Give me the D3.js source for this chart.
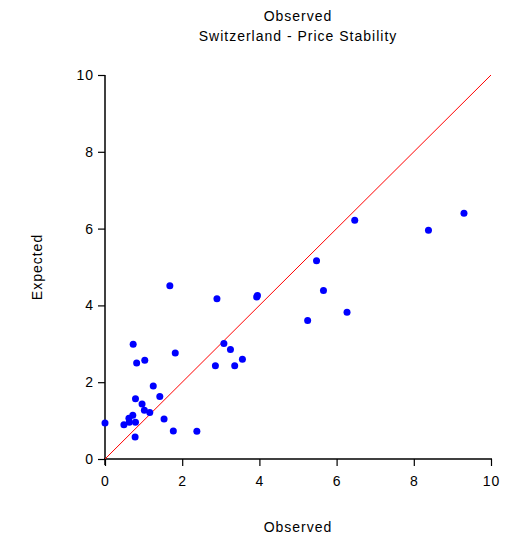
<!DOCTYPE html>
<html>
<head>
<meta charset="utf-8">
<script src="https://cdn.jsdelivr.net/npm/d3@7"></script>
<style>
  body { margin: 0; background: #fff; }
  text { font-family: "Liberation Sans", Arial, sans-serif; fill: #000; letter-spacing: 1px; }
</style>
</head>
<body>
<div id="chart"></div>
<script>
// observed vs expected values
let observed = [0.73, 1.82, 3.08, 3.25, 0.82, 1.03, 2.86, 3.36, 3.56, 1.25,
                1.42, 0.79, 0.96, 1.02, 1.16, 1.53, 0.72, 0.62, 0.63, 0.79,
                0.49, 0.00, 0.78, 1.77, 2.38, 6.47, 9.30, 8.38, 5.48, 5.66,
                1.68, 2.90, 3.93, 3.95, 5.25, 6.27];
let expected = [2.99, 2.76, 3.01, 2.85, 2.50, 2.57, 2.43, 2.43, 2.60, 1.90,
                1.63, 1.57, 1.43, 1.27, 1.21, 1.04, 1.14, 1.06, 0.96, 0.96,
                0.89, 0.94, 0.57, 0.73, 0.72, 6.22, 6.40, 5.96, 5.16, 4.39,
                4.51, 4.17, 4.22, 4.26, 3.61, 3.82];
let ticks = [0, 2, 4, 6, 8, 10];
let titles = ["Observed", "Switzerland - Price Stability"];

let width = 508, height = 540;
let margin = { left: 105, right: 17, top: 75, bottom: 81 };

let svg = d3.select('#chart')
    .append('svg')
    .attr('width', width)
    .attr('height', height);

let x = d3.scaleLinear().domain([0, 10]).range([margin.left, width - margin.right]);
let y = d3.scaleLinear().domain([0, 10]).range([height - margin.bottom, margin.top]);

// axes
let xAxis = svg.append('g')
    .attr('transform', `translate(0,${height - margin.bottom})`)
    .call(d3.axisBottom(x).tickValues(ticks).tickSize(7).tickPadding(10));
let yAxis = svg.append('g')
    .attr('transform', `translate(${margin.left},0)`)
    .call(d3.axisLeft(y).tickValues(ticks).tickSize(7).tickPadding(4));

[xAxis, yAxis].forEach(a => {
    a.selectAll('text').style('font-size', '14px').style('font-family', '"Liberation Sans", Arial, sans-serif');
    a.select('.domain').attr('stroke', '#000').attr('stroke-width', 1.5);
    a.selectAll('.tick line').attr('stroke', '#000').attr('stroke-width', 1.2);
});
xAxis.select('.domain').attr('d', `M${x(0) - 1},0H${x(10) + 1}`);
yAxis.select('.domain').attr('d', `M0,${y(0) + 6}V${y(10)}`);

// identity line
svg.append('line')
    .attr('x1', x(0)).attr('y1', y(0))
    .attr('x2', x(10)).attr('y2', y(10))
    .attr('stroke', '#ff0000')
    .attr('stroke-width', 1);

// points
svg.append('g')
    .selectAll('circle')
    .data(observed.map((d, i) => [d, expected[i]]))
    .enter()
    .append('circle')
    .attr('cx', d => x(d[0]))
    .attr('cy', d => y(d[1]))
    .attr('r', 3.5)
    .attr('fill', '#0000ff');

// titles
svg.selectAll('.title')
    .data(titles)
    .enter()
    .append('text')
    .attr('class', 'title')
    .attr('x', (x(0) + x(10)) / 2)
    .attr('y', (d, i) => 21 + i * 20)
    .attr('text-anchor', 'middle')
    .style('font-size', '14px')
    .text(d => d);

svg.append('text')
    .attr('x', (x(0) + x(10)) / 2)
    .attr('y', 532)
    .attr('text-anchor', 'middle')
    .style('font-size', '14px')
    .text('Observed');

svg.append('text')
    .attr('transform', `translate(42,${(y(0) + y(10)) / 2}) rotate(-90)`)
    .attr('text-anchor', 'middle')
    .style('font-size', '14px')
    .text('Expected');
</script>
</body>
</html>
